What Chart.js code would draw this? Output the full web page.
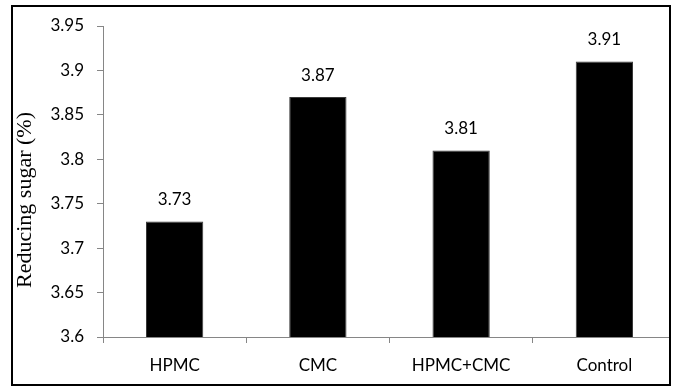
<!DOCTYPE html>
<html>
<head>
<meta charset="utf-8">
<script src="https://cdn.jsdelivr.net/npm/chart.js@4/dist/chart.umd.min.js"></script>
<style>
  html, body { margin: 0; padding: 0; background: #fff; }
  #wrap { width: 677px; height: 387px; position: relative; }
</style>
</head>
<body>
<div id="wrap"><canvas id="c" width="677" height="387"></canvas></div>
<script>
// Reducing sugar content by treatment
const categories = ['HPMC', 'CMC', 'HPMC+CMC', 'Control'];
const reducingSugar = [3.73, 3.87, 3.81, 3.91];
const yTicks = [3.6, 3.65, 3.7, 3.75, 3.8, 3.85, 3.9, 3.95];
const yTitle = 'Reducing sugar (%)';

const tickFont = { family: 'Lato, "Liberation Sans", sans-serif', size: 17 };
const axisGray = '#868686';

// Values written above each bar
const barValues = {
  id: 'barValues',
  afterDatasetsDraw(chart) {
    const ctx = chart.ctx;
    const meta = chart.getDatasetMeta(0);
    ctx.save();
    ctx.font = `${tickFont.size}px ${tickFont.family}`;
    ctx.fillStyle = '#000';
    ctx.textAlign = 'center';
    ctx.textBaseline = 'middle';
    meta.data.forEach((bar, i) => {
      ctx.fillText(String(reducingSugar[i]), bar.x, bar.y - 22);
    });
    ctx.restore();
  }
};

// Rotated axis title and the frame around the figure
const frame = {
  id: 'frame',
  afterDraw(chart) {
    const ctx = chart.ctx;
    ctx.save();
    ctx.fillStyle = '#fff';
    ctx.fillRect(671, 0, 6, 387);
    ctx.translate(25, 200);
    ctx.rotate(-Math.PI / 2);
    ctx.font = '22px "Liberation Serif", "Times New Roman", serif';
    ctx.fillStyle = '#000';
    ctx.textAlign = 'center';
    ctx.textBaseline = 'middle';
    ctx.fillText(yTitle, 0, 0);
    ctx.restore();
    ctx.save();
    ctx.strokeStyle = '#000';
    ctx.lineWidth = 2;
    ctx.strokeRect(12, 6, 658, 379);
    ctx.restore();
  }
};

new Chart(document.getElementById('c'), {
  type: 'bar',
  data: {
    labels: categories,
    datasets: [{
      data: reducingSugar,
      backgroundColor: '#000',
      borderColor: '#3a3a3a',
      borderWidth: 1,
      barPercentage: 0.4,
      categoryPercentage: 1.0
    }]
  },
  options: {
    responsive: false,
    animation: false,
    devicePixelRatio: 1,
    layout: { padding: { left: 0, right: 1, top: 26, bottom: 0 } },
    plugins: { legend: { display: false }, tooltip: { enabled: false } },
    scales: {
      x: {
        offset: true,
        grid: {
          offset: true,
          drawOnChartArea: false,
          drawTicks: true,
          tickLength: 6,
          color: axisGray
        },
        border: { display: true, color: axisGray, width: 1 },
        ticks: { color: '#000', font: tickFont, padding: 12, maxRotation: 0 },
        afterFit(scale) { scale.height = 50; }
      },
      y: {
        min: 3.6,
        max: 3.95,
        afterBuildTicks(scale) { scale.ticks = yTicks.map(v => ({ value: v })); },
        grid: {
          drawOnChartArea: false,
          drawTicks: true,
          tickLength: 6,
          color: axisGray
        },
        border: { display: true, color: axisGray, width: 1 },
        ticks: {
          color: '#000',
          font: tickFont,
          padding: 13,
          callback: v => String(Number(v.toFixed(2)))
        },
        afterFit(scale) { scale.width = 103; }
      }
    }
  },
  plugins: [barValues, frame]
});
</script>
</body>
</html>
